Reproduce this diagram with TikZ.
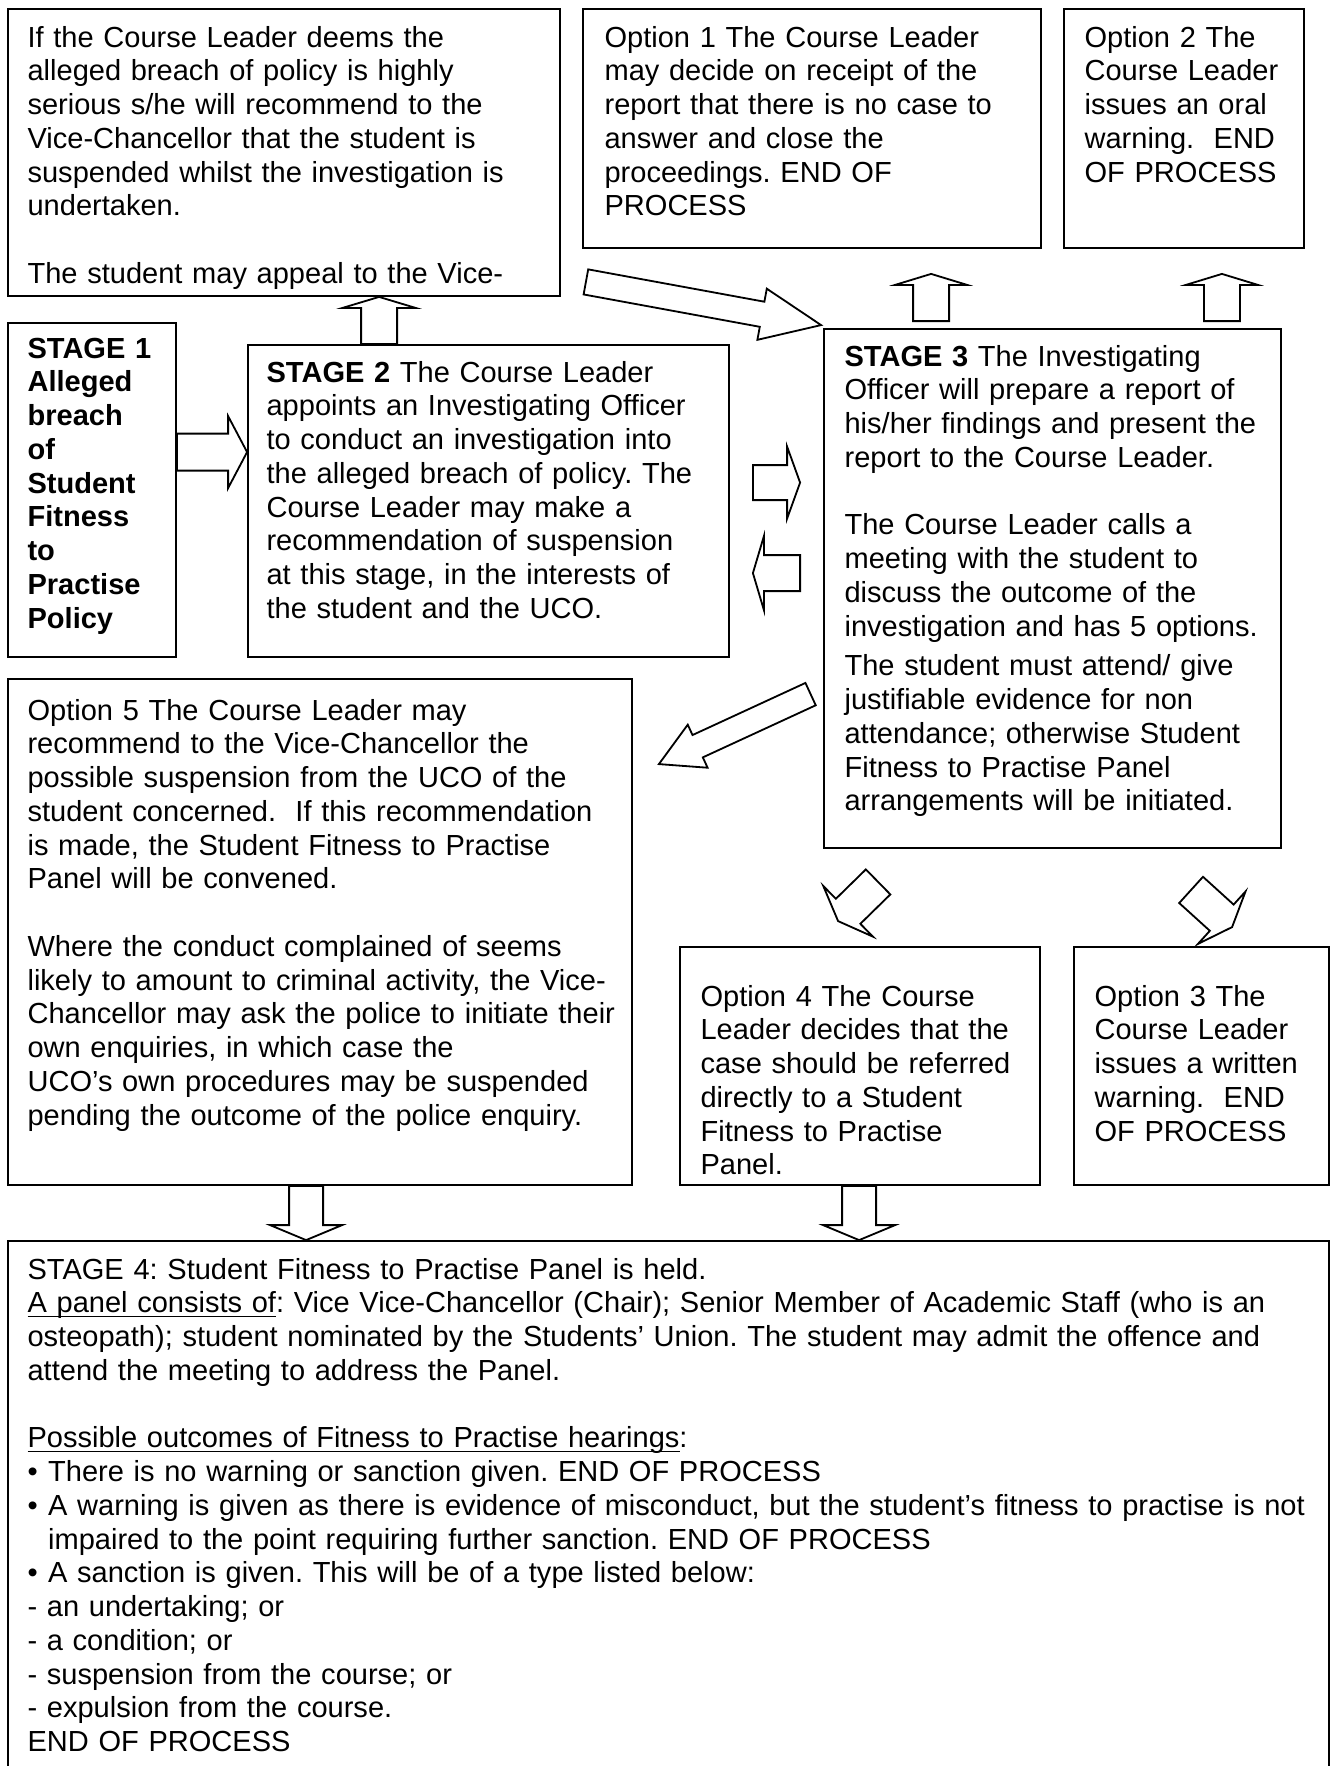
\documentclass[tikz,border=0pt]{standalone}
\usepackage{fontspec}
\setmainfont{Liberation Sans}
\usetikzlibrary{calc,fit}
\frenchspacing

\newcommand{\px}{0.4133pt}
% underline just below the baseline, as the word processor draws it
\newcommand{\ulbase}[1]{\leavevmode\setbox0\hbox{#1}\rlap{\rule[-1.7pt]{\wd0}{0.55pt}}\box0}
% hollow block arrow: tail, tip, shaft half width, head half width, head length (in px)
\newcommand{\blockarrow}[5]{%
  \coordinate (hb) at ($(#2)!#5*\px!(#1)$);
  \draw[block] ($(#1)!#3*\px!90:(#2)$) -- ($(hb)!#3*\px!90:(#2)$)
    -- ($(hb)!#4*\px!90:(#2)$) -- (#2) -- ($(hb)!#4*\px!-90:(#2)$)
    -- ($(hb)!#3*\px!-90:(#2)$) -- ($(#1)!#3*\px!-90:(#2)$) -- cycle;}

\begin{document}
\begin{tikzpicture}[
  x=0.4133pt, y=-0.4133pt,
  panel/.style={draw=black, line width=.75pt, inner sep=0pt},
  txt/.style={anchor=base west, inner sep=0pt, align=left,
    font=\fontsize{12}{13.95}\selectfont},
  block/.style={draw=black, fill=white, line width=.75pt, line join=miter}
]
\useasboundingbox (0,0) rectangle (1338,1766);

% Boxes.
\node[panel, fit={(8,9) (560,296)}] (suspend) {};
\node[panel, fit={(583,9) (1041,248)}] (opt1) {};
\node[panel, fit={(1064,9) (1304,248)}] (opt2) {};
\node[panel, fit={(8,323) (176,657)}] (stage1) {};
\node[panel, fit={(248,345) (729,657)}] (stage2) {};
\node[panel, fit={(824,329) (1281,848)}] (stage3) {};
\node[panel, fit={(8,679) (632,1185)}] (opt5) {};
\node[panel, fit={(680,947) (1040,1185)}] (opt4) {};
\node[panel, fit={(1074,947) (1329,1185)}] (opt3) {};
\node[panel, fit={(8,1241) (1329,1800)}] (stage4) {};

% Texts, first baseline placed from the top left corner of each box.
\node[txt, text width=215pt] (suspendtext) at ($(suspend.north west)+(20,39)$)
  {If the Course Leader deems the\\
   alleged breach of policy is highly\\
   serious s/he will recommend to the\\
   Vice-Chancellor that the student is\\
   suspended whilst the investigation is\\
   undertaken.\\[\baselineskip]
   The student may appeal to the Vice-};
\node[txt, text width=180pt] (opt1text) at ($(opt1.north west)+(22,39)$)
  {Option 1 The Course Leader\\
   may decide on receipt of the\\
   report that there is no case to\\
   answer and close the\\
   proceedings. END OF\\
   PROCESS};
\node[txt, text width=92pt] (opt2text) at ($(opt2.north west)+(21,39)$)
  {Option 2 The\\
   Course Leader\\
   issues an oral\\
   warning.\ \ END\\
   OF PROCESS};
\node[txt, text width=64pt, font=\fontsize{12}{13.95}\selectfont\bfseries] (stage1text)
  at ($(stage1.north west)+(20,36)$)
  {STAGE 1\\ Alleged\\ breach\\ of\\ Student\\ Fitness\\ to\\ Practise\\ Policy};
\node[txt, text width=192pt] (stage2text) at ($(stage2.north west)+(19,38)$)
  {\textbf{STAGE 2} The Course Leader\\
   appoints an Investigating Officer\\
   to conduct an investigation into\\
   the alleged breach of policy. The\\
   Course Leader may make a\\
   recommendation of suspension\\
   at this stage, in the interests of\\
   the student and the UCO.};
\node[txt, text width=182pt] (stage3text) at ($(stage3.north west)+(21,38)$)
  {\textbf{STAGE 3} The Investigating\\
   Officer will prepare a report of\\
   his/her findings and present the\\
   report to the Course Leader.\\[\baselineskip]
   The Course Leader calls a\\
   meeting with the student to\\
   discuss the outcome of the\\
   investigation and has 5 options.\\[2.5pt]
   The student must attend/ give\\
   justifiable evidence for non\\
   attendance; otherwise Student\\
   Fitness to Practise Panel\\
   arrangements will be initiated.};
\node[txt, text width=250pt] (opt5text) at ($(opt5.north west)+(20,42)$)
  {Option 5 The Course Leader may\\
   recommend to the Vice-Chancellor the\\
   possible suspension from the UCO of the\\
   student concerned.\ \ If this recommendation\\
   is made, the Student Fitness to Practise\\
   Panel will be convened.\\[\baselineskip]
   Where the conduct complained of seems\\
   likely to amount to criminal activity, the Vice-\\
   Chancellor may ask the police to initiate their\\
   own enquiries, in which case the\\
   UCO’s own procedures may be suspended\\
   pending the outcome of the police enquiry.};
\node[txt, text width=140pt] (opt4text) at ($(opt4.north west)+(21,60)$)
  {Option 4 The Course\\
   Leader decides that the\\
   case should be referred\\
   directly to a Student\\
   Fitness to Practise\\
   Panel.};
\node[txt, text width=97pt] (opt3text) at ($(opt3.north west)+(21,60)$)
  {Option 3 The\\
   Course Leader\\
   issues a written\\
   warning.\ \ END\\
   OF PROCESS};
\node[txt, text width=540pt] (stage4text) at ($(stage4.north west)+(20,39)$)
  {STAGE 4: Student Fitness to Practise Panel is held.\\
   \ulbase{A panel consists of}: Vice Vice-Chancellor (Chair); Senior Member of Academic Staff (who is an\\
   osteopath); student nominated by the Students’ Union. The student may admit the offence and\\
   attend the meeting to address the Panel.\\[\baselineskip]
   \ulbase{Possible outcomes of Fitness to Practise hearings}:\\
   \makebox[8.5pt][l]{•}There is no warning or sanction given. END OF PROCESS\\
   \makebox[8.5pt][l]{•}A warning is given as there is evidence of misconduct, but the student’s fitness to practise is not\\
   \hspace*{8.5pt}impaired to the point requiring further sanction. END OF PROCESS\\
   \makebox[8.5pt][l]{•}A sanction is given. This will be of a type listed below:\\
   - an undertaking; or\\
   - a condition; or\\
   - suspension from the course; or\\
   - expulsion from the course.\\
   END OF PROCESS};

% Block arrows between the boxes.
\coordinate (a1s) at ($(stage1.north east)+(0,130)$);
\coordinate (a1e) at (stage2.west |- a1s);
\blockarrow{a1s}{a1e}{18.5}{36}{19}
\coordinate (a2s) at ($(stage2.north west)+(132,0)$);
\coordinate (a2e) at (a2s |- suspend.south);
\blockarrow{a2s}{a2e}{18}{36.5}{11}
\coordinate (a3s) at ($(suspend.south east)+(25,-15)$);
\coordinate (a3e) at ($(stage3.north west)+(-2,-3)$);
\blockarrow{a3s}{a3e}{12.75}{26}{60}
\coordinate (a4s) at ($(stage3.north west)+(108,-7)$);
\coordinate (a4e) at ($(a4s |- opt1.south)+(0,25)$);
\blockarrow{a4s}{a4e}{18}{36}{11}
\coordinate (a5s) at ($(stage3.north east)+(-60,-7)$);
\coordinate (a5e) at ($(a5s |- opt2.south)+(0,25)$);
\blockarrow{a5s}{a5e}{18}{36}{11}
\coordinate (a6s) at ($(stage2.north east)+(23,138.5)$);
\coordinate (a6e) at ($(stage3.west |- a6s)+(-23,0)$);
\blockarrow{a6s}{a6e}{17.5}{36}{13}
\coordinate (a7s) at ($(stage3.north west)+(-23,245)$);
\coordinate (a7e) at ($(stage2.east |- a7s)+(23,0)$);
\blockarrow{a7s}{a7e}{18}{37}{11}
\coordinate (a8s) at ($(stage3.north west)+(-12.5,366)$);
\coordinate (a8e) at ($(opt5.north east)+(26,86)$);
\blockarrow{a8s}{a8e}{12.3}{23.7}{42.7}
\coordinate (a9s) at ($(stage3.south west)+(55,33)$);
\coordinate (a9e) at ($(opt4.north west)+(159,-25)$);
\blockarrow{a9s}{a9e}{17.5}{35.5}{14}
\coordinate (a10s) at ($(stage3.south west)+(368,41)$);
\coordinate (a10e) at ($(opt3.north west)+(159,-19)$);
\blockarrow{a10s}{a10e}{17.7}{35.4}{14}
\coordinate (a11s) at ($(opt5.south west)+(299,0)$);
\coordinate (a11e) at (a11s |- stage4.north);
\blockarrow{a11s}{a11e}{17}{36}{15}
\coordinate (a12s) at ($(opt4.south west)+(180,0)$);
\coordinate (a12e) at (a12s |- stage4.north);
\blockarrow{a12s}{a12e}{17}{36}{15}
\end{tikzpicture}
\end{document}
